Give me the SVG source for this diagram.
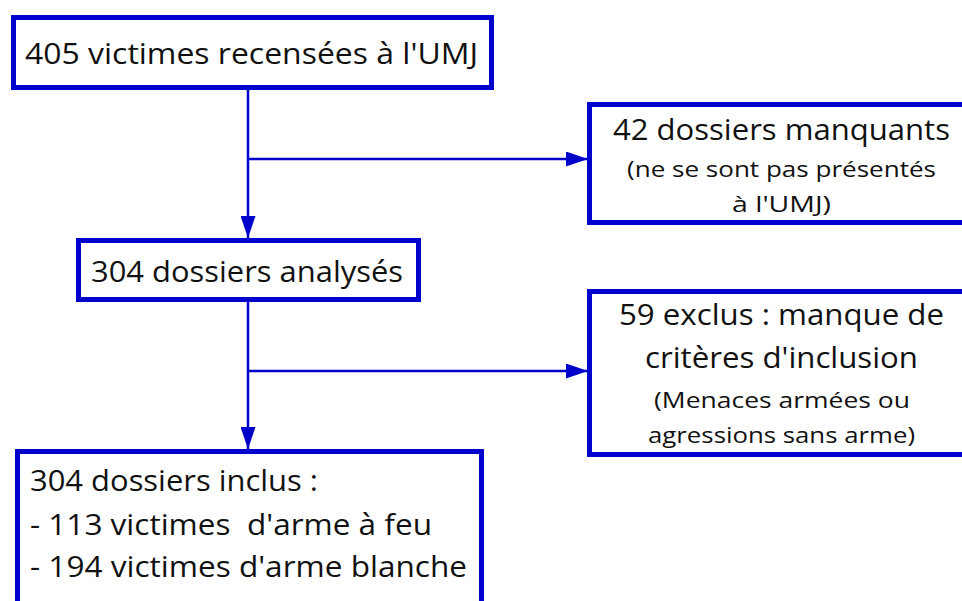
<svg xmlns="http://www.w3.org/2000/svg" width="962" height="601" viewBox="0 0 962 601">
<defs>
<style>
.box{fill:#fff;stroke:#0000CC;stroke-width:5}
.conn{fill:none;stroke:#0000CC;stroke-width:2.5}
.t{font-family:"Open Sans","Liberation Sans",sans-serif;fill:#111;font-size:29px}
.s{font-family:"Open Sans","Liberation Sans",sans-serif;fill:#111;font-size:21px}
</style>
<marker id="arr" markerUnits="userSpaceOnUse" markerWidth="22" markerHeight="15" refX="22" refY="7.5" orient="auto" viewBox="0 0 22 15">
<path d="M0,0 L22,7.5 L0,15 z" fill="#0000CC"/>
</marker>
</defs>
<rect width="962" height="601" fill="#fff"/>
<g id="connectors">
<path class="conn" d="M248,90 V238" marker-end="url(#arr)"/>
<path class="conn" d="M248,159 H588" marker-end="url(#arr)"/>
<path class="conn" d="M248,302 V449" marker-end="url(#arr)"/>
<path class="conn" d="M248,371 H588" marker-end="url(#arr)"/>
</g>
<g id="n1">
<rect class="box" x="13.5" y="17.5" width="478" height="70"/>
<text class="t" x="25" y="64" textLength="453" lengthAdjust="spacingAndGlyphs">405 victimes recensées à l'UMJ</text>
</g>
<g id="n2">
<rect class="box" x="78.5" y="240.5" width="340" height="59"/>
<text class="t" x="91" y="282" textLength="312" lengthAdjust="spacingAndGlyphs">304 dossiers analysés</text>
</g>
<g id="n3">
<rect class="box" x="589.5" y="104.5" width="400" height="118"/>
<text class="t" x="613" y="140" textLength="337" lengthAdjust="spacingAndGlyphs">42 dossiers manquants</text>
<text class="s" x="627" y="177" textLength="309" lengthAdjust="spacingAndGlyphs">(ne se sont pas présentés</text>
<text class="s" x="732" y="212" textLength="99" lengthAdjust="spacingAndGlyphs">à l'UMJ)</text>
</g>
<g id="n4">
<rect class="box" x="589.5" y="291.5" width="400" height="163"/>
<text class="t" x="619" y="325" textLength="325" lengthAdjust="spacingAndGlyphs">59 exclus : manque de</text>
<text class="t" x="645" y="368" textLength="273" lengthAdjust="spacingAndGlyphs">critères d'inclusion</text>
<text class="s" x="654" y="408" textLength="256" lengthAdjust="spacingAndGlyphs">(Menaces armées ou</text>
<text class="s" x="648" y="443" textLength="267" lengthAdjust="spacingAndGlyphs">agressions sans arme)</text>
</g>
<g id="n5">
<rect class="box" x="17.5" y="451.5" width="464" height="200"/>
<text class="t" x="30" y="491" textLength="288" lengthAdjust="spacingAndGlyphs">304 dossiers inclus :</text>
<text class="t" x="30" y="535" textLength="402" lengthAdjust="spacingAndGlyphs" xml:space="preserve">- 113 victimes  d'arme à feu</text>
<text class="t" x="30" y="577" textLength="437" lengthAdjust="spacingAndGlyphs">- 194 victimes d'arme blanche</text>
</g>
</svg>
